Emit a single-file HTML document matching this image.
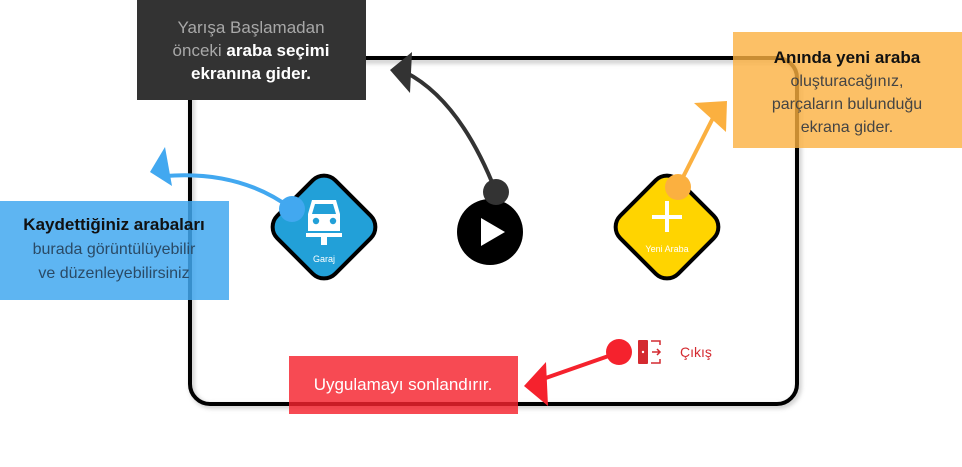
<!DOCTYPE html>
<html><head><meta charset="utf-8"><style>
html,body{margin:0;padding:0;background:#fff;width:962px;height:467px;overflow:hidden}
svg{display:block;font-family:"Liberation Sans","DejaVu Sans",sans-serif}
</style></head><body>
<svg width="962" height="467" viewBox="0 0 962 467" xmlns="http://www.w3.org/2000/svg">
<defs><filter id="sh" x="-5%" y="-5%" width="110%" height="110%"><feGaussianBlur stdDeviation="2"/></filter></defs>
<rect x="192" y="61" width="607" height="345" rx="20" fill="none" stroke="#aaa" stroke-width="5" filter="url(#sh)" opacity="0.6"/>
<rect x="190" y="58" width="607" height="346" rx="20" fill="none" stroke="#000" stroke-width="4"/>

<g transform="translate(324,227) rotate(45)">
<rect x="-41" y="-41" width="82" height="82" rx="16" fill="#22A0D8" stroke="#000" stroke-width="4"/>
</g>
<g fill="#fff">
<path d="M312 200 h24 l4 14 v17 h-32 v-17 z" />
<rect x="306" y="233" width="36" height="4"/>
<rect x="321" y="237" width="6" height="8"/>
</g>
<path d="M315 204 h18 l3 10 h-24 z" fill="#22A0D8"/>
<circle cx="316" cy="221" r="3.2" fill="#22A0D8"/><circle cx="333" cy="221" r="3.2" fill="#22A0D8"/>
<text x="324" y="262" font-size="9" fill="#fff" text-anchor="middle">Garaj</text>

<circle cx="490" cy="232" r="33" fill="#000"/>
<path d="M481 218 v28 l24 -14 z" fill="#fff"/>

<g transform="translate(667,227) rotate(45)">
<rect x="-41" y="-41" width="82" height="82" rx="16" fill="#FFD400" stroke="#000" stroke-width="4"/>
</g>
<rect x="665" y="201" width="4" height="31" fill="#fff"/>
<rect x="652" y="215" width="30" height="4" fill="#fff"/>
<text x="667" y="252" font-size="9" fill="#fff" text-anchor="middle">Yeni Araba</text>

<rect x="638" y="340" width="10" height="24" rx="1" fill="#D42A30"/>
<circle cx="643" cy="352" r="1.2" fill="#fff"/>
<path d="M651 341 h9 v4 M651 363 h9 v-4 M652 352 h8 M657 349 l3 3 l-3 3" stroke="#D42A30" stroke-width="1.5" fill="none"/>
<text x="680" y="357" font-size="14" fill="#D42A30">Çıkış</text>

<path d="M292 209 Q240 170 165 176" stroke="#42A8F0" stroke-width="4" fill="none"/>
<path d="M150 172 L165 147 L172 186 z" fill="#42A8F0"/>
<circle cx="292" cy="209" r="13" fill="#42A8F0"/>

<path d="M496 192 Q460 100 405 72" stroke="#333" stroke-width="4" fill="none"/>
<path d="M390 70 L412 52 L410 93 z" fill="#333"/>
<circle cx="496" cy="192" r="13" fill="#333"/>

<path d="M678 187 L716 112" stroke="#FBB040" stroke-width="4" fill="none"/>
<path d="M727 101 L694 103 L726 132 z" fill="#FBB040"/>
<circle cx="678" cy="187" r="13" fill="#FBB040"/>

<path d="M620 352 L540 380" stroke="#F5222D" stroke-width="4" fill="none"/>
<path d="M524 386 L546 362 L548 406 z" fill="#F5222D"/>
<circle cx="619" cy="352" r="13" fill="#F5222D"/>

<rect x="137" y="0" width="229" height="100" fill="#333"/>
<text x="251" y="33" font-size="17" fill="#a8a8a8" text-anchor="middle">Yarışa Başlamadan</text>
<text x="251" y="56" font-size="17" fill="#a8a8a8" text-anchor="middle">önceki <tspan fill="#fff" font-weight="bold">araba seçimi</tspan></text>
<text x="251" y="79" font-size="17" fill="#fff" font-weight="bold" text-anchor="middle">ekranına gider.</text>

<rect x="733" y="32" width="229" height="116" fill="#FBB040" opacity="0.8"/>
<text x="847" y="63" font-size="17" fill="#111" font-weight="bold" text-anchor="middle">Anında yeni araba</text>
<text x="847" y="86" font-size="16" fill="#444" text-anchor="middle">oluşturacağınız,</text>
<text x="847" y="109" font-size="16" fill="#444" text-anchor="middle">parçaların bulunduğu</text>
<text x="847" y="132" font-size="16" fill="#444" text-anchor="middle">ekrana gider.</text>

<rect x="0" y="201" width="229" height="99" fill="#42A8F0" opacity="0.85"/>
<text x="114" y="230" font-size="17" fill="#111" font-weight="bold" text-anchor="middle">Kaydettiğiniz arabaları</text>
<text x="114" y="254" font-size="16" fill="#2a4a66" text-anchor="middle">burada görüntülüyebilir</text>
<text x="114" y="278" font-size="16" fill="#2a4a66" text-anchor="middle">ve düzenleyebilirsiniz</text>

<rect x="289" y="356" width="229" height="58" fill="#F5222D" opacity="0.82"/>
<text x="403" y="390" font-size="17" fill="#fff" text-anchor="middle">Uygulamayı sonlandırır.</text>
</svg>
</body></html>
